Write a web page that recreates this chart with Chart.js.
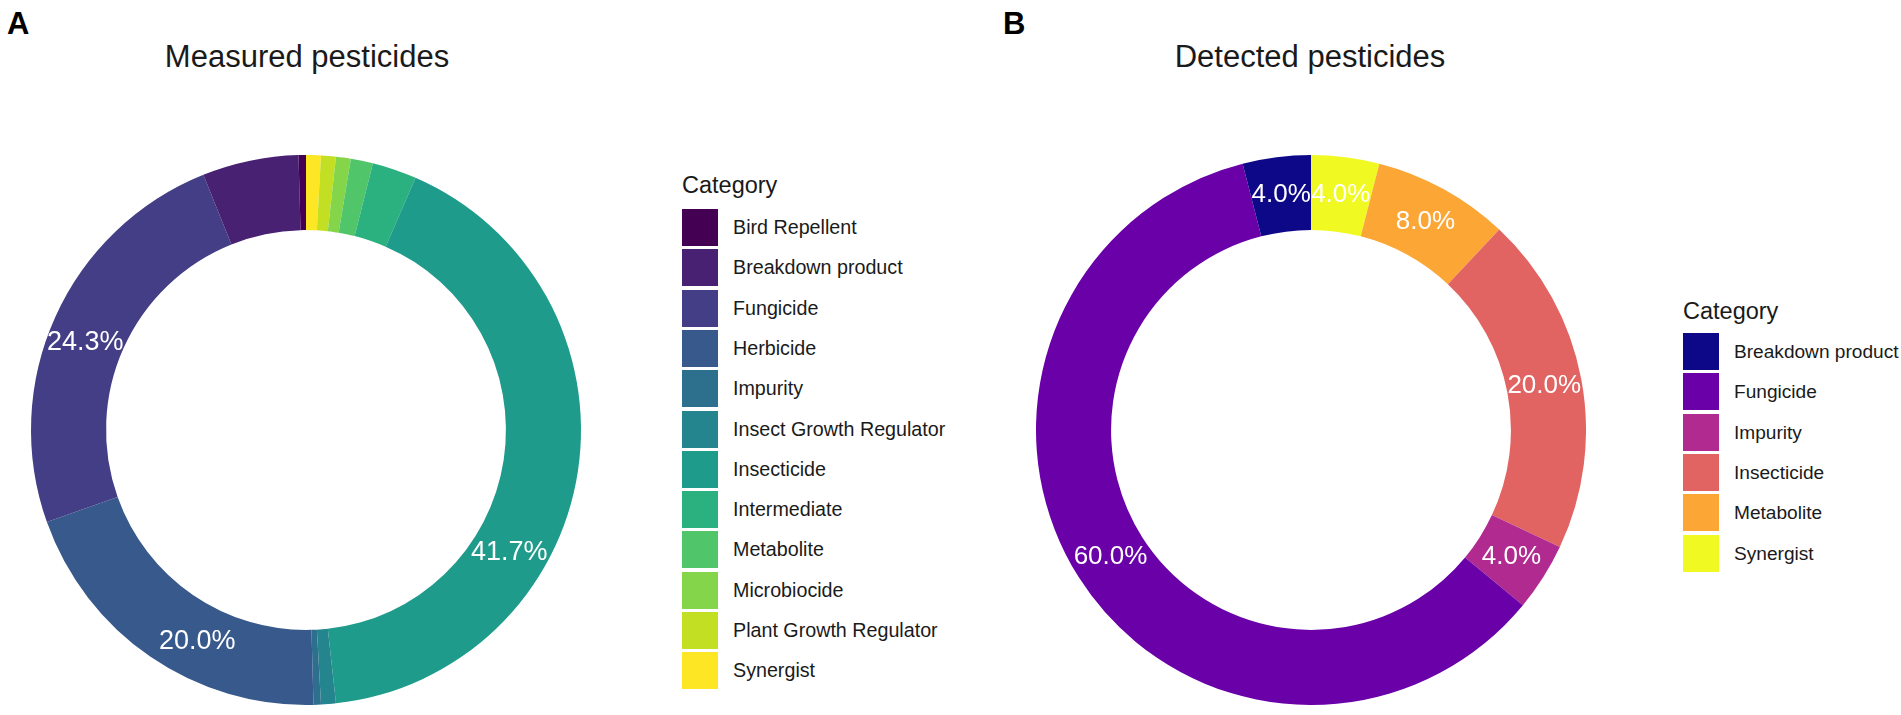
<!DOCTYPE html>
<html>
<head>
<meta charset="utf-8">
<script src="https://cdn.jsdelivr.net/npm/chart.js@4.4.1/dist/chart.umd.min.js"></script>
<style>
  html, body { margin: 0; padding: 0; background: #ffffff; }
  body { width: 1901px; height: 715px; position: relative; overflow: hidden;
         font-family: "Liberation Sans", Arial, sans-serif; color: #1a1a1a; }
  canvas { position: absolute; }
  .panel { position: absolute; font-weight: bold; font-size: 31px; color: #000; line-height: 1; }
  .title { position: absolute; font-size: 31px; line-height: 1; white-space: nowrap; transform: translateX(-50%); color: #1a1a1a; }
  .legend { position: absolute; }
  .legend .lt { position: absolute; font-size: 23.5px; white-space: nowrap; line-height: 1; }
  .legend .item { position: absolute; height: 37px; }
  .legend .box { position: absolute; left: 0; top: 0; width: 36px; height: 37px; }
  .legend .lab { position: absolute; left: 51px; top: 0; height: 37px; line-height: 37px; white-space: nowrap; color: #1a1a1a; }
  #legendA .lab { font-size: 19.7px; }
  #legendB .lab { font-size: 19.1px; }
</style>
</head>
<body>
<div class="panel" style="left:7px; top:8px;">A</div>
<div class="panel" style="left:1003px; top:8px;">B</div>
<div class="title" id="titleA" style="left:307px; top:41px;"></div>
<div class="title" id="titleB" style="left:1310px; top:41px;"></div>
<canvas id="chartA" width="612" height="560" style="left:0px; top:150px;"></canvas>
<canvas id="chartB" width="550" height="560" style="left:1036px; top:150px;"></canvas>
<div class="legend" id="legendA" style="left:682px; top:0px;"></div>
<div class="legend" id="legendB" style="left:1683px; top:0px;"></div>
<script>
// ---------- Data ----------
const titleMeasured = "Measured pesticides";
const titleDetected = "Detected pesticides";
const legendTitle = "Category";

const measuredCategories = ["Bird Repellent", "Breakdown product", "Fungicide", "Herbicide", "Impurity",
  "Insect Growth Regulator", "Insecticide", "Intermediate", "Metabolite", "Microbiocide",
  "Plant Growth Regulator", "Synergist"];
const measuredCounts = [1, 13, 56, 46, 1, 2, 96, 6, 3, 2, 2, 2];
const measuredColors = ["#440154", "#482173", "#433E85", "#38598C", "#2D708E", "#25858E",
  "#1E9B8A", "#2BB07F", "#51C56A", "#85D54A", "#C2DF23", "#FDE725"];

const detectedCategories = ["Breakdown product", "Fungicide", "Impurity", "Insecticide", "Metabolite", "Synergist"];
const detectedCounts = [1, 15, 1, 5, 2, 1];
const detectedColors = ["#0D0887", "#6A00A8", "#B12A90", "#E16462", "#FCA636", "#F0F921"];

// ---------- Helpers ----------
function pctLabels(counts, minPct) {
  const total = counts.reduce((a, b) => a + b, 0);
  return counts.map(c => {
    const p = 100 * c / total;
    return p >= minPct ? p.toFixed(1) + "%" : "";
  });
}

const sliceLabelPlugin = {
  id: 'sliceLabels',
  afterDatasetsDraw(chart) {
    const opts = chart.options.plugins.sliceLabels;
    const labels = opts.labels;
    const anchors = opts.anchors || {};
    const ctx = chart.ctx;
    const meta = chart.getDatasetMeta(0);
    ctx.save();
    ctx.font = opts.fontSize + "px 'Liberation Sans', Arial, sans-serif";
    ctx.fillStyle = "#ffffff";
    ctx.textAlign = "center";
    ctx.textBaseline = "middle";
    meta.data.forEach((arc, i) => {
      const dataIndex = labels.length - 1 - i;
      const t = labels[dataIndex];
      if (!t) return;
      const f = anchors[dataIndex] !== undefined ? anchors[dataIndex] : 0.5;
      const a = arc.startAngle + f * (arc.endAngle - arc.startAngle);
      const r = (arc.innerRadius + arc.outerRadius) / 2;
      ctx.fillText(t, arc.x + Math.cos(a) * r, arc.y + Math.sin(a) * r);
    });
    ctx.restore();
  }
};

function makeDonut(canvasId, cats, counts, colors, minPct, fontSize, anchors) {
  // ggplot draws the stack so that the last category sits right of 12 o'clock going clockwise
  const rc = cats.slice().reverse();
  const rv = counts.slice().reverse();
  const rcol = colors.slice().reverse();
  return new Chart(document.getElementById(canvasId), {
    type: 'doughnut',
    data: {
      labels: rc,
      datasets: [{ data: rv, backgroundColor: rcol, borderWidth: 0, hoverOffset: 0 }]
    },
    options: {
      responsive: false,
      animation: false,
      devicePixelRatio: 1,
      radius: 275,
      cutout: '72.7%',
      rotation: 0,
      layout: { padding: 0 },
      plugins: {
        legend: { display: false },
        tooltip: { enabled: false },
        sliceLabels: { labels: pctLabels(counts, minPct), fontSize: fontSize, anchors: anchors }
      }
    },
    plugins: [sliceLabelPlugin]
  });
}

function makeLegend(elId, cats, colors, titleBaseline, firstTop) {
  const el = document.getElementById(elId);
  const lt = document.createElement('div');
  lt.className = 'lt';
  lt.textContent = legendTitle;
  lt.style.top = (titleBaseline - 20) + 'px';
  el.appendChild(lt);
  cats.forEach((c, i) => {
    const it = document.createElement('div');
    it.className = 'item';
    it.style.top = (firstTop + i * 40.3) + 'px';
    const b = document.createElement('div');
    b.className = 'box';
    b.style.background = colors[i];
    const l = document.createElement('div');
    l.className = 'lab';
    l.textContent = c;
    it.appendChild(b);
    it.appendChild(l);
    el.appendChild(it);
  });
}

document.getElementById('titleA').textContent = titleMeasured;
document.getElementById('titleB').textContent = titleDetected;
// label anchor (fraction along each slice) follows where the reference placed its text
makeDonut('chartA', measuredCategories, measuredCounts, measuredColors, 10, 27, { 2: 0.47, 3: 0.4, 6: 0.65 });
makeDonut('chartB', detectedCategories, detectedCounts, detectedColors, 0, 26, {});
makeLegend('legendA', measuredCategories, measuredColors, 194, 209);
makeLegend('legendB', detectedCategories, detectedColors, 320, 333);
</script>
</body>
</html>
